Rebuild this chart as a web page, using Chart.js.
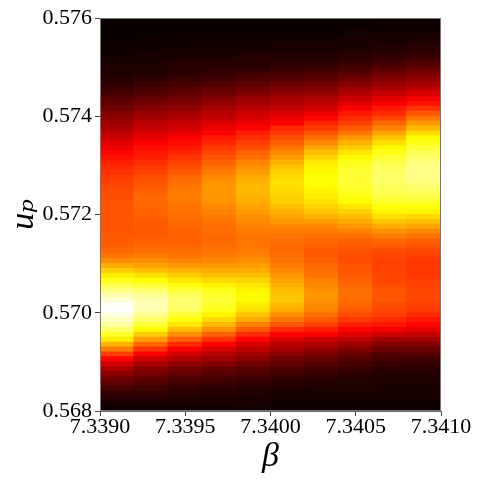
<!DOCTYPE html>
<html>
<head>
<meta charset="utf-8">
<script src="https://cdn.jsdelivr.net/npm/chart.js@4.4.1/dist/chart.umd.min.js"></script>
<style>
    html, body { margin: 0; padding: 0; background: #fff; }
    #wrap { width: 482px; height: 482px; }
</style>
</head>
<body>
<div id="wrap"><canvas id="heatChart"></canvas></div>
<script>
// column centres (beta) and row edges (u_p) of the heat grid
const betaCols = [7.3391, 7.3393, 7.3395, 7.3397, 7.3399, 7.3401, 7.3403, 7.3405, 7.3407, 7.3409];
const upEdges = [
    0.5680, 0.5681, 0.5682, 0.5683, 0.5684, 0.5685, 0.5686, 0.5687, 0.5688, 0.5689,
    0.5690, 0.5691, 0.5692, 0.5693, 0.5694, 0.5695, 0.5696, 0.5697, 0.5698, 0.5699,
    0.5700, 0.5701, 0.5702, 0.5703, 0.5704, 0.5705, 0.5706, 0.5707, 0.5708, 0.5709,
    0.5710, 0.5711, 0.5712, 0.5713, 0.5714, 0.5715, 0.5716, 0.5717, 0.5718, 0.5719,
    0.5720, 0.5721, 0.5722, 0.5723, 0.5724, 0.5725, 0.5726, 0.5727, 0.5728, 0.5729,
    0.5730, 0.5731, 0.5732, 0.5733, 0.5734, 0.5735, 0.5736, 0.5737, 0.5738, 0.5739,
    0.5740, 0.5741, 0.5742, 0.5743, 0.5744, 0.5745, 0.5746, 0.5747, 0.5748, 0.5749,
    0.5750, 0.5751, 0.5752, 0.5753, 0.5754, 0.5755, 0.5756, 0.5757, 0.5758, 0.5759,
    0.5760
];

// intensity (0-100) per column, bottom row first
const heat0 = [1,2,4,6,9,12,15,19,24,30, 37,46,55,63,72,79,85,90,94,97, 100,99,96,92,87,82,77,72,67,62, 57,54,52,51,50,50,49,49,49,49, 49,49,49,48,48,47,46,45,44,43, 41,39,37,34,32,29,27,24,22,20, 18,15,13,11,9,7,5,4,3,3, 2,2,1,1,1,0,0,0,0,0];
const heat1 = [1,2,4,6,8,10,13,16,19,24, 29,36,44,52,60,67,74,80,85,89, 92,93,92,89,85,80,75,70,65,61, 58,55,53,52,51,50,50,50,50,51, 51,52,52,52,51,50,49,48,46,45, 43,41,40,38,36,33,31,28,26,23, 21,18,16,13,11,9,7,5,4,3, 3,2,2,1,1,1,0,0,0,0];
const heat2 = [1,2,3,5,6,8,10,13,16,20, 25,30,36,43,51,58,65,71,76,80, 84,86,86,84,80,76,71,67,63,59, 56,54,53,52,51,51,51,52,52,53, 54,54,55,55,55,54,53,52,50,48, 46,44,42,40,38,36,33,30,28,25, 23,20,18,15,13,11,9,7,5,4, 4,3,2,2,1,1,1,0,0,0];
const heat3 = [1,2,3,4,5,7,9,11,14,18, 22,26,31,37,44,51,58,64,69,73, 77,79,80,79,77,73,69,65,62,59, 57,55,54,53,52,52,53,53,54,55, 56,57,58,59,59,59,58,57,55,53, 51,49,47,45,42,40,37,34,31,28, 26,23,21,18,15,13,10,8,6,5, 4,3,2,2,1,1,1,0,0,0];
const heat4 = [1,2,2,3,4,6,8,10,12,15, 19,23,27,31,37,43,50,56,62,66, 70,72,74,74,73,71,68,65,62,60, 58,56,55,54,54,54,55,56,57,58, 60,61,62,63,64,64,63,62,60,58, 56,53,51,48,46,43,41,37,34,31, 29,26,23,21,18,15,12,10,8,5, 4,4,3,2,1,1,1,0,0,0];
const heat5 = [1,1,2,2,3,5,6,8,10,13, 15,19,23,27,31,37,43,49,54,58, 62,64,66,66,65,63,61,59,57,55, 54,53,52,52,53,54,55,57,59,61, 63,65,67,68,69,70,70,69,68,66, 63,60,57,54,51,48,45,42,37,34, 31,28,25,23,20,17,14,11,9,7, 5,4,3,2,2,1,1,0,0,0];
const heat6 = [1,1,2,2,3,4,5,7,9,11, 14,17,21,25,29,36,41,46,50,53, 56,57,58,59,58,57,56,54,53,52, 51,50,50,51,52,53,55,57,60,63, 66,68,70,72,73,74,75,75,74,73, 71,68,65,61,57,53,49,45,42,37, 34,30,27,24,21,18,15,12,10,8, 5,4,3,2,2,1,1,0,0,0];
const heat7 = [1,1,2,2,3,3,4,5,7,9, 11,14,18,22,27,32,37,41,45,48, 50,52,53,53,53,52,51,50,49,49, 48,48,49,50,51,53,56,59,62,65, 68,71,74,76,78,79,80,80,80,79, 77,74,71,67,63,59,54,50,46,43, 40,36,32,28,25,22,18,15,12,9, 7,5,4,3,2,2,1,1,0,0];
const heat8 = [1,1,2,2,2,3,3,4,5,7, 9,11,14,18,23,29,35,40,43,46, 47,48,49,49,49,48,47,47,46,46, 46,47,48,50,52,55,58,62,66,70, 73,76,79,81,83,84,85,85,85,84, 82,80,77,74,70,66,61,56,52,47, 43,40,36,32,28,24,21,18,15,12, 9,7,5,4,3,2,2,1,1,0];
const heat9 = [1,1,2,2,2,3,3,4,5,6, 8,11,14,18,23,28,33,37,40,43, 45,46,47,47,47,46,46,45,45,45, 45,46,47,49,51,54,57,61,65,69, 73,76,79,82,84,86,87,88,88,88, 87,85,83,80,77,74,69,64,59,54, 49,44,39,35,31,27,23,20,17,14, 11,8,6,5,4,3,2,1,1,0];
const heatCols = [heat0, heat1, heat2, heat3, heat4, heat5, heat6, heat7, heat8, heat9];

const xTicks = [7.3390, 7.3395, 7.3400, 7.3405, 7.3410];
const xTickLabels = ['7.3390', '7.3395', '7.3400', '7.3405', '7.3410'];
const yTicks = [0.568, 0.570, 0.572, 0.574, 0.576];
const yTickLabels = ['0.568', '0.570', '0.572', '0.574', '0.576'];

// matplotlib "hot" colormap
function hot(t) {
    const clamp = v => Math.max(0, Math.min(1, v));
    const r = clamp(0.0416 + 0.9584 * t / 0.365079);
    const g = clamp((t - 0.365079) / (0.746032 - 0.365079));
    const b = clamp((t - 0.746032) / (1 - 0.746032));
    return `rgb(${Math.round(r * 255)}, ${Math.round(g * 255)}, ${Math.round(b * 255)})`;
}

const datasets = upEdges.slice(0, -1).map((u0, k) => ({
    data: betaCols.map(b => ({ x: b, y: [u0, upEdges[k + 1]] })),
    backgroundColor: heatCols.map(col => hot(col[k] / 100)),
    borderWidth: 0,
    inflateAmount: 0.6,
    barPercentage: 1,
    categoryPercentage: 1,
    grouped: false
}));

const frame = {
    id: 'frame',
    afterDraw(chart) {
        const { ctx, chartArea: a } = chart;
        ctx.save();
        ctx.strokeStyle = '#777';
        ctx.lineWidth = 1;
        ctx.strokeRect(a.left + 0.5, a.top + 0.5, a.right - a.left - 1, a.bottom - a.top - 1);
        ctx.restore();
    }
};

const tickFont = { family: "'Liberation Serif', 'DejaVu Serif', serif", size: 22 };
const titleFont = { family: "'Liberation Serif', 'DejaVu Serif', serif", size: 34, style: 'italic' };

new Chart(document.getElementById('heatChart'), {
    type: 'bar',
    data: { datasets: datasets },
    plugins: [frame],
    options: {
        responsive: true,
        maintainAspectRatio: false,
        animation: false,
        events: [],
        layout: { padding: { top: 18, right: 41, left: 0, bottom: 0 } },
        plugins: { legend: { display: false }, tooltip: { enabled: false } },
        scales: {
            x: {
                type: 'linear',
                offset: false,
                min: 7.3390,
                max: 7.3410,
                afterBuildTicks: s => { s.ticks = xTicks.map(v => ({ value: v })); },
                afterFit: s => { s.height = 71; },
                grid: { drawOnChartArea: false, drawTicks: true, tickLength: 5, color: '#444', offset: false },
                border: { display: true, color: '#666' },
                ticks: {
                    font: tickFont, color: '#000', padding: -2, maxRotation: 0, autoSkip: false,
                    callback: (v, i) => xTickLabels[i]
                },
                title: { display: true, text: 'β', font: titleFont, color: '#000', padding: { top: 0, bottom: 5 } }
            },
            y: {
                type: 'linear',
                min: 0.568,
                max: 0.576,
                beginAtZero: false,
                afterBuildTicks: s => { s.ticks = yTicks.map(v => ({ value: v })); },
                afterFit: s => { s.width = 100; },
                grid: { drawOnChartArea: false, drawTicks: true, tickLength: 5, color: '#444' },
                border: { display: true, color: '#666' },
                ticks: {
                    font: tickFont, color: '#000', padding: 3, autoSkip: false,
                    callback: (v, i) => yTickLabels[i]
                },
                title: { display: true, text: 'uₚ', font: titleFont, color: '#000', padding: { top: 4, bottom: 0 } }
            }
        }
    }
});
</script>
</body>
</html>
